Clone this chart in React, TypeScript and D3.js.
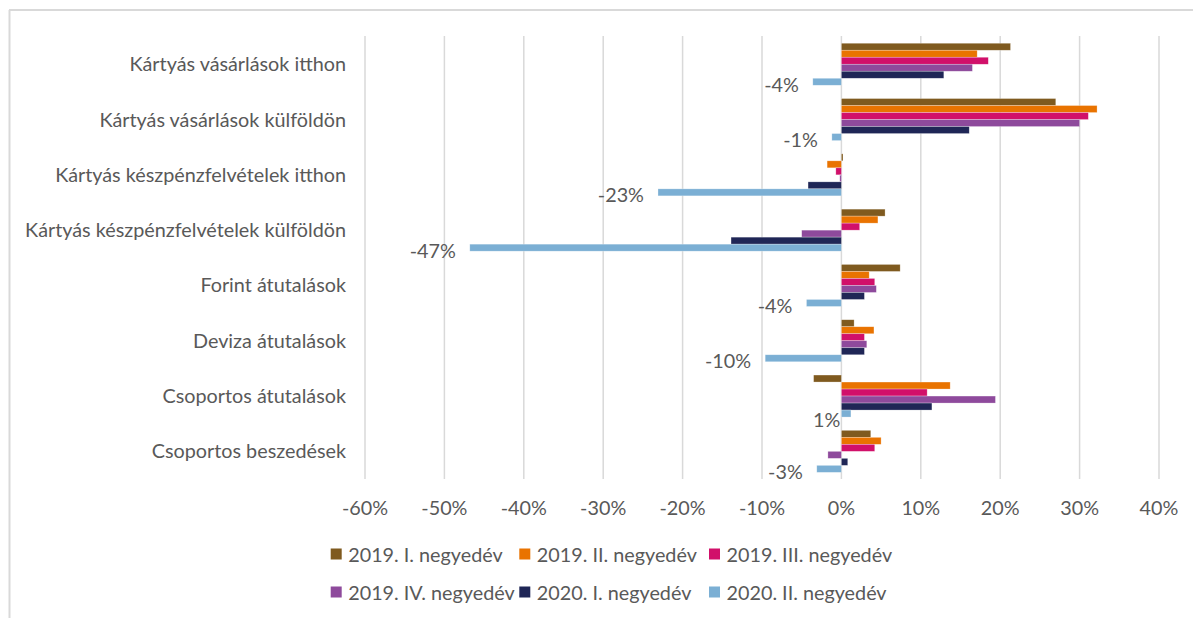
import React from "react";
import * as d3 from "d3";

const categories = [
  "Kártyás vásárlások itthon",
  "Kártyás vásárlások külföldön",
  "Kártyás készpénzfelvételek itthon",
  "Kártyás készpénzfelvételek külföldön",
  "Forint átutalások",
  "Deviza átutalások",
  "Csoportos átutalások",
  "Csoportos beszedések",
];

const seriesNames = [
  "2019. I. negyedév",
  "2019. II. negyedév",
  "2019. III. negyedév",
  "2019. IV. negyedév",
  "2020. I. negyedév",
  "2020. II. negyedév",
];

const q2019_1 = [21.3, 27.0, 0.2, 5.5, 7.4, 1.6, -3.5, 3.7];
const q2019_2 = [17.1, 32.2, -1.8, 4.6, 3.5, 4.1, 13.7, 5.0];
const q2019_3 = [18.5, 31.1, -0.7, 2.3, 4.2, 2.9, 10.8, 4.2];
const q2019_4 = [16.5, 30.0, -0.2, -5.0, 4.4, 3.2, 19.4, -1.7];
const q2020_1 = [12.9, 16.1, -4.2, -13.9, 2.9, 2.9, 11.4, 0.8];
const q2020_2 = [-3.6, -1.2, -23.1, -46.8, -4.4, -9.6, 1.2, -3.1];

const seriesValues = [q2019_1, q2019_2, q2019_3, q2019_4, q2020_1, q2020_2];
const colors = ["#7F5A1F", "#E97300", "#D1106A", "#8E4A9C", "#1F2656", "#7BAFD4"];

const xTicks = [-0.6, -0.5, -0.4, -0.3, -0.2, -0.1, 0, 0.1, 0.2, 0.3, 0.4];

const locale = d3.formatLocale({
  decimal: ",",
  thousands: " ",
  grouping: [3],
  currency: ["", ""],
  minus: "-",
});
const pct = locale.format(".0%");

const FONT = "Lato, 'Open Sans', sans-serif";
const TEXT = "#595959";
const GRID = "#D9D9D9";
const FS = 19.8;

export default function App() {
  const W = 1193;
  const H = 618;
  const x = d3.scaleLinear().domain([-0.6, 0.4]).range([365, 1159]);
  const y0 = d3
    .scaleBand<string>()
    .domain(categories)
    .range([36.6, 479])
    .paddingInner(0.24)
    .paddingOuter(0.12);
  const y1 = d3
    .scaleBand<string>()
    .domain(seriesNames)
    .range([0, y0.bandwidth()])
    .padding(0);

  const legendCols = [330.7, 519.3, 709];
  const legendRows = [554, 592];

  return (
    <svg
      width={W}
      height={H}
      style={{ position: "absolute", left: 0, top: 0, background: "#fff" }}
    >
      <rect x={0} y={0} width={W} height={H} fill="#fff" />
      {/* chart border */}
      <line x1={9.5} x2={9.5} y1={10} y2={H} stroke={GRID} strokeWidth={2} />
      <line x1={9} x2={W} y1={10} y2={10} stroke={GRID} strokeWidth={2} />

      {/* gridlines */}
      {xTicks.map((t) => (
        <line
          key={"g" + t}
          x1={x(t)}
          x2={x(t)}
          y1={36}
          y2={479}
          stroke={GRID}
          strokeWidth={1.5}
        />
      ))}

      {/* bars */}
      {seriesValues.map((vals, si) =>
        vals.map((v, ci) => {
          const val = v / 100;
          const yy = (y0(categories[ci]) as number) + (y1(seriesNames[si]) as number);
          const x0 = x(Math.min(0, val));
          const x1 = x(Math.max(0, val));
          return (
            <rect
              key={`b${si}-${ci}`}
              x={x0}
              y={yy}
              width={Math.max(0.8, x1 - x0)}
              height={y1.bandwidth()}
              fill={colors[si]}
              stroke="#ffffff"
              strokeOpacity={0.45}
              strokeWidth={0.6}
            />
          );
        })
      )}

      {/* data labels for last series */}
      {q2020_2.map((v, ci) => {
        const val = v / 100;
        const yy =
          (y0(categories[ci]) as number) +
          (y1(seriesNames[5]) as number) +
          y1.bandwidth() / 2 +
          2;
        const lx = val < 0 ? x(val) - 14 : x(0) - 1;
        return (
          <text
            key={"dl" + ci}
            x={lx}
            y={yy + (val < 0 ? 0 : 3)}
            textAnchor="end"
            dominantBaseline="central"
            fontFamily={FONT}
            fontSize={FS}
            fill={TEXT}
          >
            {pct(val)}
          </text>
        );
      })}

      {/* category labels */}
      {categories.map((c) => (
        <text
          key={c}
          x={346}
          y={(y0(c) as number) + y0.bandwidth() / 2 - 1}
          textAnchor="end"
          dominantBaseline="central"
          fontFamily={FONT}
          fontSize={FS}
          fill={TEXT}
        >
          {c}
        </text>
      ))}

      {/* x tick labels */}
      {xTicks.map((t) => (
        <text
          key={"t" + t}
          x={x(t)}
          y={507}
          textAnchor="middle"
          dominantBaseline="central"
          fontFamily={FONT}
          fontSize={FS}
          fill={TEXT}
        >
          {pct(t)}
        </text>
      ))}

      {/* legend */}
      {seriesNames.map((s, i) => {
        const lx = legendCols[i % 3];
        const ly = legendRows[Math.floor(i / 3)];
        return (
          <g key={"l" + s}>
            <rect x={lx} y={ly - 5.5} width={11} height={11} fill={colors[i]} />
            <text
              x={lx + 17.5}
              y={ly}
              dominantBaseline="central"
              fontFamily={FONT}
              fontSize={FS}
              fill={TEXT}
            >
              {s}
            </text>
          </g>
        );
      })}
    </svg>
  );
}
